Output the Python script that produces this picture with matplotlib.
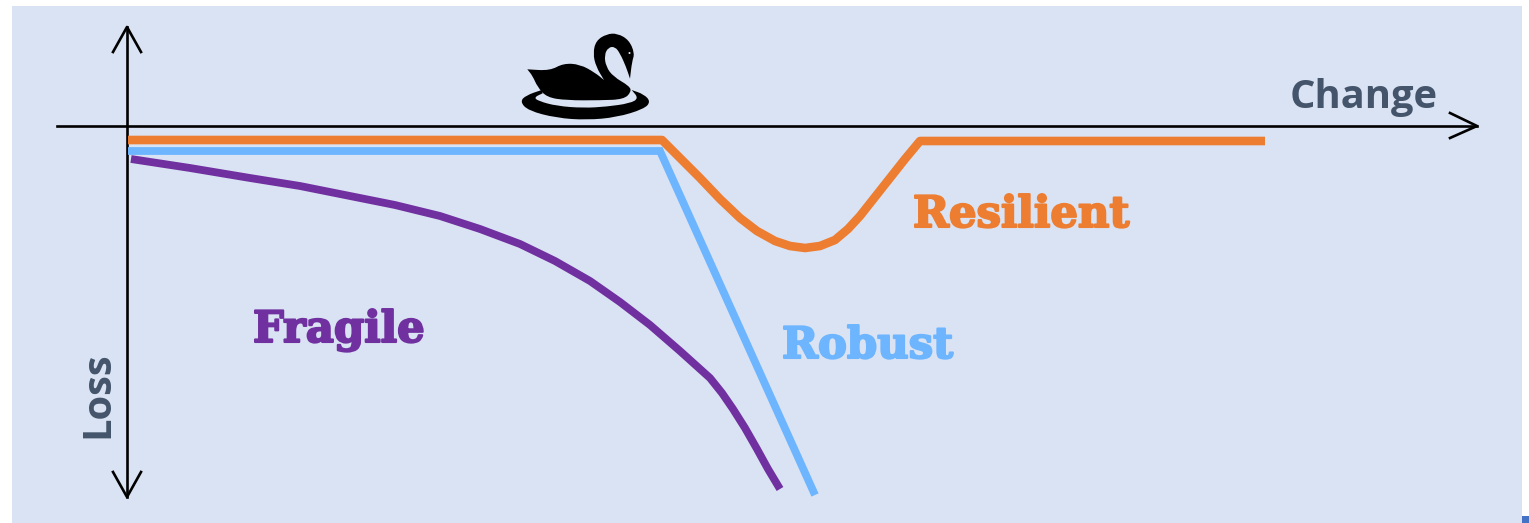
import matplotlib
matplotlib.use("Agg")
import matplotlib.pyplot as plt
import matplotlib.patheffects as pe
from matplotlib.patches import Rectangle, PathPatch, Circle
from matplotlib.path import Path

# courbes (x, y en pixels du dessin)
orange_x = [128, 662, 680, 700, 720, 740, 757, 775, 790, 805, 820, 835, 848, 860, 875, 890, 905, 920, 1265]
orange_y = [140, 140, 158, 178, 199, 218, 231, 241, 246, 248, 246, 240, 229, 216, 197, 178, 159, 141, 141]
blue_x = [128, 660, 815]
blue_y = [151, 151, 495]
purple_x = [131, 190, 250, 300, 350, 395, 440, 480, 520, 555, 590, 620, 650, 680, 710, 722, 733, 745, 757, 768, 780]
purple_y = [159, 168, 178, 186, 196, 205, 216, 229, 244, 261, 281, 302, 325, 351, 378, 393, 409, 428, 449, 469, 489]

swan_body = [(82, 148), (82, 148), (150, 152), (190, 130), (240, 133), (285, 158), (312, 180), (312, 180), (288, 140),
             (279, 100), (288, 62), (320, 42), (352, 40), (387, 60), (404, 100), (396, 125), (390, 176), (390, 176),
             (378, 140), (360, 100), (345, 80), (325, 82), (313, 105), (318, 140), (340, 170), (388, 198), (394, 215),
             (372, 238), (300, 241), (200, 241), (140, 232), (112, 200), (98, 168)]
swan_ring = [(125, 210), (125, 210), (78, 226), (60, 245), (85, 272), (170, 294), (260, 300), (350, 292), (432, 267),
             (452, 245), (432, 223), (395, 210), (395, 210), (416, 235), (390, 250), (320, 260), (250, 264),
             (170, 258), (115, 243), (102, 232), (128, 220), (128, 220)]


def smooth_path(pts, ox=500, oy=20, scale=3):
    """contour fermé lissé par des quadratiques entre les milieux"""
    pts = [(ox + x / scale, oy + y / scale) for x, y in pts]
    n = len(pts)
    mid = lambda a, b: ((a[0] + b[0]) / 2, (a[1] + b[1]) / 2)
    verts = [mid(pts[-1], pts[0])]
    codes = [Path.MOVETO]
    for i in range(n):
        verts += [pts[i], mid(pts[i], pts[(i + 1) % n])]
        codes += [Path.CURVE3, Path.CURVE3]
    return Path(verts, codes)


fig = plt.figure(figsize=(15.29, 5.23), dpi=100)
ax = fig.add_axes([0, 0, 1, 1])
ax.set_xlim(0, 1529)
ax.set_ylim(523, 0)
ax.axis("off")

# fond
ax.add_patch(Rectangle((12, 6), 1510, 517, fc="#DAE3F3", ec="none"))
ax.add_patch(Rectangle((1522, 516), 7, 7, fc="#4472C4", ec="none"))

# axes fléchés
ax.plot([127, 127], [27, 497], color="black", lw=1.9, zorder=2)
ax.plot([113, 127, 141], [52, 27, 52], color="black", lw=1.9, zorder=2)
ax.plot([113, 127, 141], [472, 497, 472], color="black", lw=1.9, zorder=2)
ax.plot([57, 1477], [126, 126], color="black", lw=1.9, zorder=2)
ax.plot([1450, 1477, 1450], [113, 126, 138], color="black", lw=1.9, zorder=2)

# courbes
ax.plot(purple_x, purple_y, color="#7030A0", lw=5.6, solid_capstyle="butt", solid_joinstyle="round", zorder=3)
ax.plot(blue_x, blue_y, color="#6DB5FF", lw=5.6, solid_capstyle="butt", solid_joinstyle="miter", zorder=3)
ax.plot(orange_x, orange_y, color="#ED7D31", lw=6.2, solid_capstyle="butt", solid_joinstyle="round", zorder=4)

# cygne
ax.add_patch(PathPatch(smooth_path(swan_body), fc="black", ec="none", zorder=5))
ax.add_patch(PathPatch(smooth_path(swan_ring), fc="black", ec="none", zorder=5))
ax.add_patch(Circle((629.5, 53), 1, fc="#DAE3F3", ec="none", zorder=6))

# textes
ax.text(1290, 108, "Change", color="#44546A", fontsize=28.7, fontweight="bold", family="Open Sans", va="baseline")
ax.text(108, 438, "Loss", color="#44546A", fontsize=28.7, fontweight="bold", family="Open Sans",
        rotation=90, ha="left", va="baseline", rotation_mode="anchor")


def fat_label(x, y, s, color, size):
    ax.text(x, y, s, color=color, fontsize=size, fontweight="bold", family="DejaVu Serif", va="baseline",
            path_effects=[pe.withStroke(linewidth=1.5, foreground=color)], zorder=6)


fat_label(253, 342, "Fragile", "#7030A0", 31.2)
fat_label(782, 358, "Robust", "#6DB5FF", 31.2)
fat_label(913, 227, "Resilient", "#ED7D31", 31.2)

fig.savefig("out.png", dpi=100)
